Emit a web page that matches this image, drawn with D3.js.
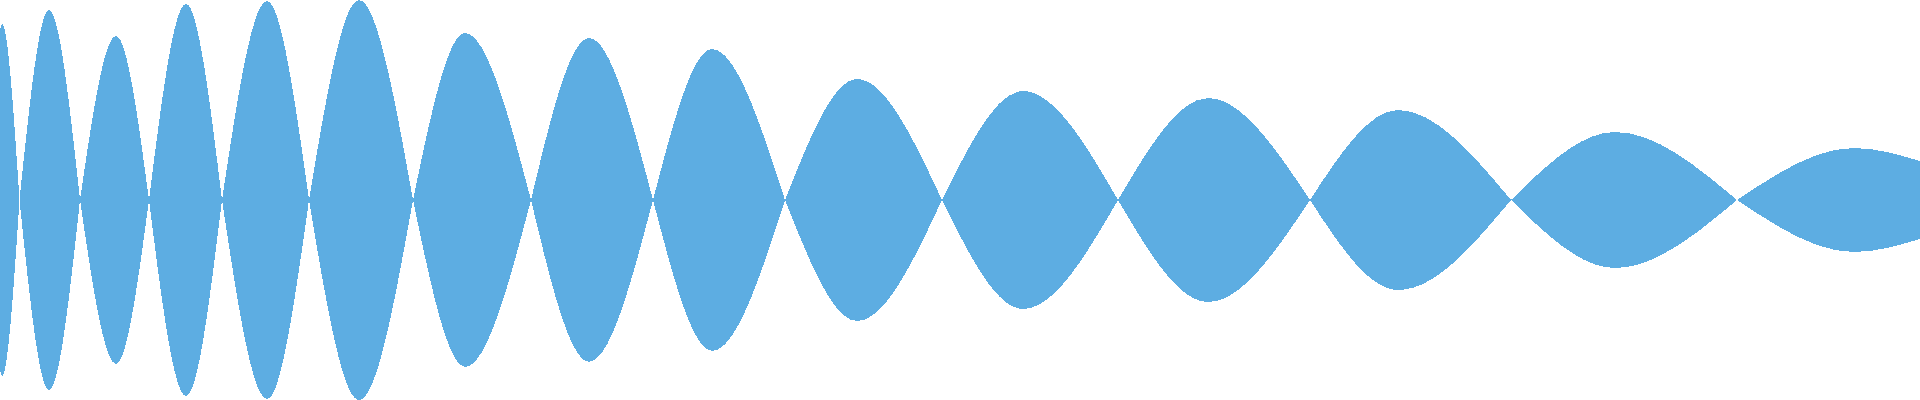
<!DOCTYPE html>
<html>
<head>
<meta charset="utf-8">
<script src="https://cdn.jsdelivr.net/npm/d3@7"></script>
<style>
  html, body { margin: 0; padding: 0; background: #fff; overflow: hidden; }
  svg { display: block; }
</style>
</head>
<body>
<div id="chart"></div>
<script>
// envelope: zero crossings, then one peak per lobe
var crossings = [19.5, 80, 149, 222, 309, 413, 531, 653, 785, 942, 1118, 1310, 1511, 1737];
var peakX   = [2, 49, 116, 186, 267, 359, 465, 589, 712, 857, 1023, 1208, 1398, 1615, 1854];
var peakAmp = [0.88, 0.95, 0.82, 0.98, 0.995, 1.0, 0.835, 0.81, 0.755, 0.605, 0.545, 0.51, 0.45, 0.34, 0.26];
var edgeX   = [0, 1920];
var edgeAmp = [0.85, 0.195];

var width = 1920, height = 400;

// one lobe per peak: [start, peak, end]
var lobes = peakX.map(function (px, i) {
  var last = peakX.length - 1;
  return [
    {x: i === 0 ? edgeX[0] : crossings[i - 1], v: i === 0 ? edgeAmp[0] : 0},
    {x: px, v: peakAmp[i]},
    {x: i === last ? edgeX[1] : crossings[i], v: i === last ? edgeAmp[1] : 0}
  ];
});

var x = d3.scaleLinear().domain([0, 1920]).range([0, width]);
var y = d3.scaleLinear().domain([-1, 1]).range([height, 0]);

var svg = d3.select("#chart").append("svg")
    .attr("width", width)
    .attr("height", height);

var area = d3.area()
    .curve(d3.curveMonotoneX)
    .x(function (d) { return x(d.x); })
    .y0(function (d) { return y(-d.v); })
    .y1(function (d) { return y(d.v); });

svg.selectAll("path.lobe")
  .data(lobes)
  .join("path")
    .attr("class", "lobe")
    .attr("d", area)
    .attr("fill", "#5dade2")
    .attr("shape-rendering", "crispEdges");
</script>
</body>
</html>
